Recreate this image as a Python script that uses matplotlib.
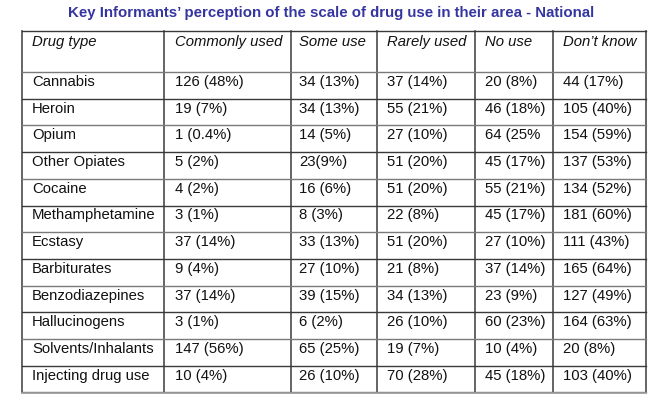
import matplotlib.pyplot as plt

title = "Key Informants\u2019 perception of the scale of drug use in their area - National"
headers = ["Drug type", "Commonly used", "Some use", "Rarely used", "No use", "Don\u2019t know"]
drugs = ["Cannabis", "Heroin", "Opium", "Other Opiates", "Cocaine", "Methamphetamine",
         "Ecstasy", "Barbiturates", "Benzodiazepines", "Hallucinogens",
         "Solvents/Inhalants", "Injecting drug use"]
commonly = ["126 (48%)", "19 (7%)", "1 (0.4%)", "5 (2%)", "4 (2%)", "3 (1%)",
            "37 (14%)", "9 (4%)", "37 (14%)", "3 (1%)", "147 (56%)", "10 (4%)"]
some = ["34 (13%)", "34 (13%)", "14 (5%)", "23(9%)", "16 (6%)", "8 (3%)",
        "33 (13%)", "27 (10%)", "39 (15%)", "6 (2%)", "65 (25%)", "26 (10%)"]
rarely = ["37 (14%)", "55 (21%)", "27 (10%)", "51 (20%)", "51 (20%)", "22 (8%)",
          "51 (20%)", "21 (8%)", "34 (13%)", "26 (10%)", "19 (7%)", "70 (28%)"]
no_use = ["20 (8%)", "46 (18%)", "64 (25%", "45 (17%)", "55 (21%)", "45 (17%)",
          "27 (10%)", "37 (14%)", "23 (9%)", "60 (23%)", "10 (4%)", "45 (18%)"]
dont_know = ["44 (17%)", "105 (40%)", "154 (59%)", "137 (53%)", "134 (52%)", "181 (60%)",
             "111 (43%)", "165 (64%)", "127 (49%)", "164 (63%)", "20 (8%)", "103 (40%)"]

columns = [drugs, commonly, some, rarely, no_use, dont_know]

# layout in pixel coordinates
col_edges = [22, 164, 291, 377, 475, 553, 646]
pads = [10, 11, 8, 10, 10, 10]
header_top, header_bottom, row_h = 31, 72, 26.7

plt.rcParams['font.family'] = ['Liberation Sans', 'DejaVu Sans']
fig = plt.figure(figsize=(6.58, 4.07), dpi=100)
ax = fig.add_axes([0, 0, 1, 1])
ax.set_xlim(0, 658)
ax.set_ylim(407, 0)
ax.axis('off')

ax.text(331, 13, title, ha='center', va='center', fontsize=10.8,
        fontweight='bold', color='#3535a0')

n = len(drugs)
row_edges = [header_top, header_bottom] + [header_bottom + row_h * (i + 1) for i in range(n)]
bottom = row_edges[-1]

for j, x in enumerate(col_edges):
    ax.plot([x, x], [header_top, bottom], color='#4a4a4a', lw=1.2)
for i, y in enumerate(row_edges):
    c = '#3a3a3a' if i % 2 == 0 else '#7a7a7a'
    ax.plot([col_edges[0], col_edges[-1]], [y, y], color=c, lw=1.0)
ax.plot([col_edges[0], col_edges[-1]], [bottom + 1, bottom + 1], color='#9a9a9a', lw=1.2)

for j, h in enumerate(headers):
    ax.text(col_edges[j] + pads[j], header_top + 4, h, ha='left', va='top',
            fontsize=10.7, fontstyle='italic', color='#111111')

for j, col in enumerate(columns):
    for i, val in enumerate(col):
        ax.text(col_edges[j] + pads[j], header_bottom + row_h * i + 3, val,
                ha='left', va='top', fontsize=10.7, color='#111111')

fig.savefig('out.png', dpi=100)
